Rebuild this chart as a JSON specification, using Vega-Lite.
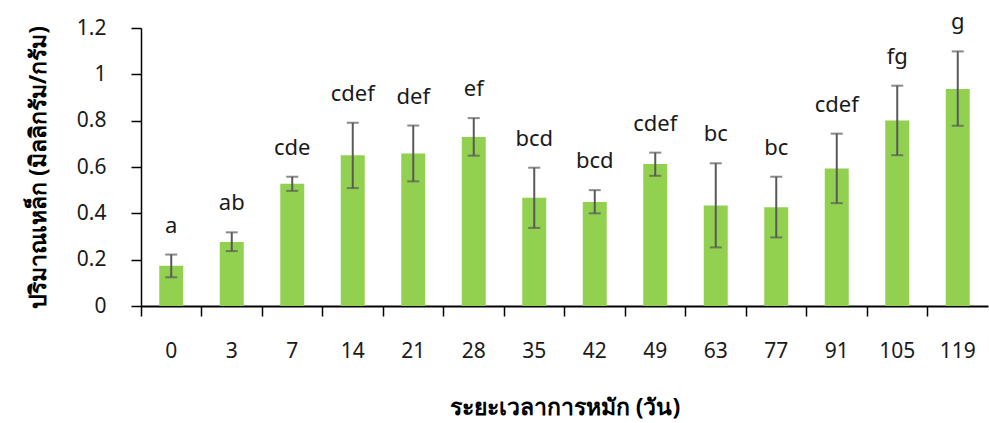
{
  "$schema": "https://vega.github.io/schema/vega-lite/v6.json",
  "width": 847,
  "height": 278,
  "autosize": "none",
  "padding": {"left": 141, "top": 28, "right": 1, "bottom": 117},
  "background": "white",
  "config": {"view": {"stroke": null}},
  "data": {
    "values": [
      {"day": "0", "mean": 0.174, "lo": 0.124, "hi": 0.222, "group": "a"},
      {"day": "3", "mean": 0.276, "lo": 0.237, "hi": 0.318, "group": "ab"},
      {"day": "7", "mean": 0.528, "lo": 0.497, "hi": 0.558, "group": "cde"},
      {"day": "14", "mean": 0.651, "lo": 0.509, "hi": 0.791, "group": "cdef"},
      {"day": "21", "mean": 0.658, "lo": 0.538, "hi": 0.779, "group": "def"},
      {"day": "28", "mean": 0.730, "lo": 0.649, "hi": 0.811, "group": "ef"},
      {"day": "35", "mean": 0.467, "lo": 0.337, "hi": 0.597, "group": "bcd"},
      {"day": "42", "mean": 0.449, "lo": 0.400, "hi": 0.500, "group": "bcd"},
      {"day": "49", "mean": 0.613, "lo": 0.562, "hi": 0.662, "group": "cdef"},
      {"day": "63", "mean": 0.434, "lo": 0.253, "hi": 0.616, "group": "bc"},
      {"day": "77", "mean": 0.426, "lo": 0.296, "hi": 0.558, "group": "bc"},
      {"day": "91", "mean": 0.593, "lo": 0.444, "hi": 0.744, "group": "cdef"},
      {"day": "105", "mean": 0.801, "lo": 0.651, "hi": 0.951, "group": "fg"},
      {"day": "119", "mean": 0.937, "lo": 0.778, "hi": 1.099, "group": "g"}
    ]
  },
  "encoding": {
    "x": {
      "field": "day",
      "type": "nominal",
      "sort": null,
      "scale": {"paddingInner": 0, "paddingOuter": 0},
      "axis": {
        "title": "ระยะเวลาการหมัก (วัน)",
        "titleFont": "Noto Sans",
        "titleFontSize": 23,
        "titleFontWeight": "bold",
        "titleColor": "#000000",
        "titlePadding": 35,
        "labelAngle": 0,
        "labelFont": "Noto Sans",
        "labelFontSize": 21,
        "labelColor": "#1a1a1a",
        "labelPadding": 24,
        "bandPosition": 0,
        "tickSize": 10,
        "tickColor": "#000000",
        "tickWidth": 1.5,
        "domainColor": "#000000",
        "domainWidth": 2
      }
    }
  },
  "layer": [
    {
      "mark": {"type": "bar", "color": "#92D050", "width": 24},
      "encoding": {
        "y": {
          "field": "mean",
          "type": "quantitative",
          "scale": {"domain": [0, 1.2], "nice": false},
          "axis": {
            "title": "ปริมาณเหล็ก (มิลลิกรัม/กรัม)",
            "titleFont": "Noto Sans",
            "titleFontSize": 23,
            "titleFontWeight": "bold",
            "titleColor": "#000000",
            "titlePadding": 26,
            "values": [0, 0.2, 0.4, 0.6, 0.8, 1, 1.2],
            "format": ".1~f",
            "labelFont": "Noto Sans",
            "labelFontSize": 21,
            "labelColor": "#1a1a1a",
            "labelPadding": 25,
            "grid": false,
            "tickSize": 10,
            "tickColor": "#000000",
            "tickWidth": 1.5,
            "domainColor": "#000000",
            "domainWidth": 1.5
          }
        }
      }
    },
    {
      "mark": {"type": "rule", "color": "#595959", "strokeWidth": 2},
      "encoding": {
        "y": {"field": "lo", "type": "quantitative"},
        "y2": {"field": "hi"}
      }
    },
    {
      "mark": {"type": "tick", "color": "#595959", "thickness": 2, "size": 12, "orient": "horizontal"},
      "encoding": {"y": {"field": "lo", "type": "quantitative"}}
    },
    {
      "mark": {"type": "tick", "color": "#595959", "thickness": 2, "size": 12, "orient": "horizontal"},
      "encoding": {"y": {"field": "hi", "type": "quantitative"}}
    },
    {
      "mark": {"type": "text", "font": "Noto Sans", "fontSize": 22, "color": "#1a1a1a", "baseline": "alphabetic", "dy": -22},
      "encoding": {
        "y": {"field": "hi", "type": "quantitative"},
        "text": {"field": "group"}
      }
    }
  ]
}
